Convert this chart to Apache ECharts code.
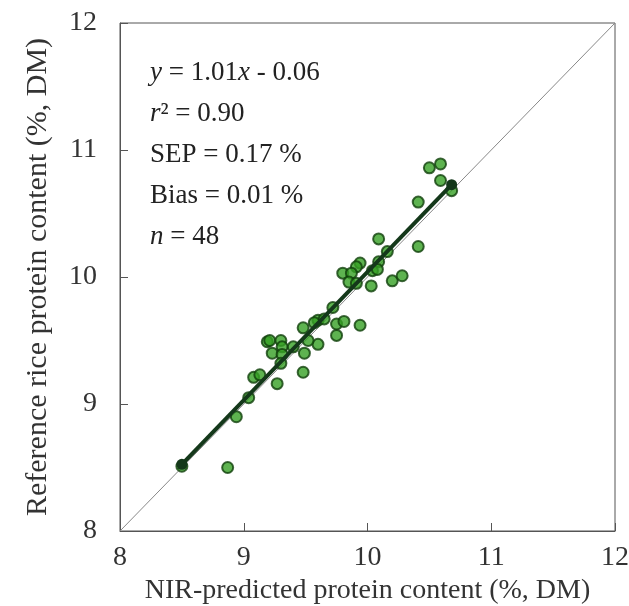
<!DOCTYPE html>
<html lang="en">
<head>
    <meta charset="UTF-8">
    <title>NIR protein</title>
    <script src="https://cdn.jsdelivr.net/npm/echarts@6/dist/echarts.min.js"></script>
    <style>
        html, body { margin: 0; padding: 0; background: #fff; }
        .demo { width: 629px; height: 606px; }
    </style>
</head>
<body>
    <div class="demo"></div>
    <script>
        // NIR-predicted (x) vs reference (y), % DM
        var predicted = [8.50, 8.87, 8.94, 9.04, 9.08, 9.13, 9.19, 9.21, 9.23, 9.30, 9.31, 9.31, 9.30, 9.27,
            9.48, 9.49, 9.48, 9.60, 9.52, 9.72, 9.60, 9.57, 9.75, 9.81, 9.75, 9.94, 10.09, 10.41, 10.16,
            10.09, 9.94, 9.91, 9.80, 9.87, 9.85, 9.91, 10.04, 10.08, 10.03, 10.20, 10.28, 10.50, 10.59,
            10.59, 10.68, 10.41, 9.65, 9.40]
        var reference = [8.51, 8.50, 8.90, 9.05, 9.21, 9.23, 9.49, 9.50, 9.40, 9.50, 9.45, 9.39, 9.32, 9.16,
            9.60, 9.40, 9.25, 9.47, 9.50, 9.76, 9.66, 9.64, 9.63, 9.65, 9.54, 9.62, 10.30, 10.24, 10.20,
            10.12, 10.11, 10.08, 10.03, 10.03, 9.96, 9.95, 10.05, 10.06, 9.93, 9.97, 10.01, 10.86, 10.89,
            10.76, 10.68, 10.59, 9.67, 9.45]
        var fitSlope = 1.01
        var fitIntercept = -0.06
        var fitRange = [8.5, 10.68]
        var axisTicks = [8, 9, 10, 11, 12]

        var points = predicted.map(function (x, i) { return [x, reference[i]] })
        var fitLine = fitRange.map(function (x) { return [x, fitSlope * x + fitIntercept] })

        var serif = 'Liberation Serif'
        var div = echarts.init(document.querySelector('.demo'))
        var option = {
            animation: false,
            grid: {
                left: 120, right: 14, top: 23, bottom: 75,
                outerBoundsMode: 'none', containLabel: false,
                show: true, borderColor: '#555', borderWidth: 1
            },
            xAxis: {
                type: 'value',
                min: axisTicks[0], max: axisTicks[axisTicks.length - 1], interval: 1,
                name: 'NIR-predicted protein content (%, DM)',
                nameLocation: 'middle', nameGap: 46,
                nameTextStyle: { fontFamily: serif, fontSize: 28, color: '#333' },
                axisLine: { lineStyle: { color: '#555' } },
                axisTick: { inside: true, length: 8, lineStyle: { color: '#555' } },
                axisLabel: { fontFamily: serif, fontSize: 28, color: '#333', margin: 13 },
                splitLine: { show: false }
            },
            yAxis: {
                type: 'value',
                min: axisTicks[0], max: axisTicks[axisTicks.length - 1], interval: 1,
                name: 'Reference rice protein content (%, DM)',
                nameLocation: 'middle', nameGap: 67,
                nameTextStyle: { fontFamily: serif, fontSize: 30, color: '#333' },
                axisLine: { lineStyle: { color: '#555' } },
                axisTick: { inside: true, length: 8, lineStyle: { color: '#555' } },
                axisLabel: { fontFamily: serif, fontSize: 28, color: '#333', margin: 23 },
                splitLine: { show: false }
            },
            graphic: [{
                type: 'text', left: 150, top: 52, z: 10,
                style: {
                    text: '{i|y} = 1.01{i|x} - 0.06\n{i|r}² = 0.90\nSEP = 0.17 %\nBias = 0.01 %\n{i|n} = 48',
                    font: '27px ' + serif, fill: '#222', lineHeight: 41,
                    rich: {
                        i: { fontStyle: 'italic', fontFamily: serif, fontSize: 27, fill: '#222' }
                    }
                }
            }],
            series: [
                {
                    type: 'line', data: [[8, 8], [12, 12]], symbol: 'none',
                    lineStyle: { color: '#888', width: 1 }, z: 1, silent: true
                },
                {
                    type: 'scatter', data: points, symbolSize: 11,
                    itemStyle: { color: '#36a024', borderColor: '#10400b', borderWidth: 2 }, z: 2
                },
                {
                    type: 'line', data: fitLine, symbol: 'circle', symbolSize: 11,
                    itemStyle: { color: '#14381a' },
                    lineStyle: { color: '#14381a', width: 4 }, z: 3
                }
            ]
        }
        div.setOption(option)
    </script>
</body>
</html>
